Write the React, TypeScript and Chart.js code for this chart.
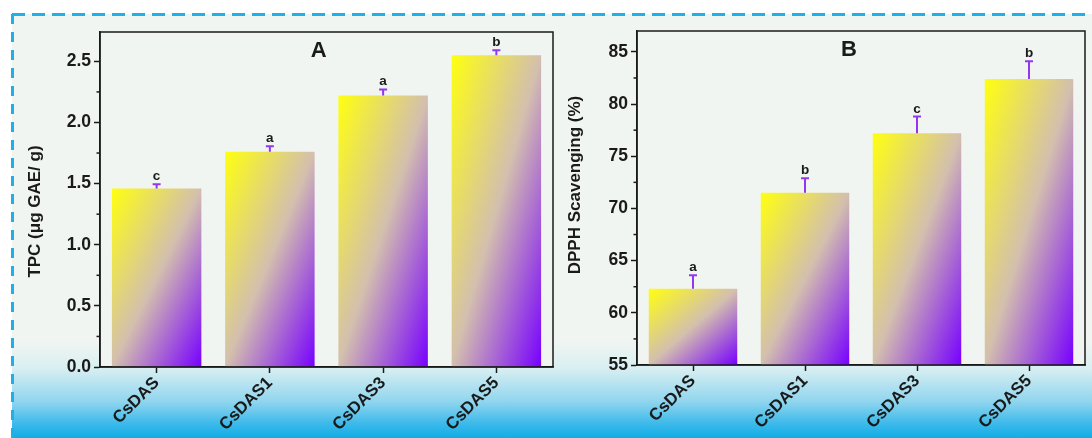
import { useEffect, useRef } from 'react';
import { Chart, registerables } from 'chart.js';

Chart.register(...registerables);

const categories = ['CsDAS', 'CsDAS1', 'CsDAS3', 'CsDAS5'];
const tpcValues = [1.46, 1.76, 2.22, 2.55];
const tpcErrors = [0.035, 0.045, 0.05, 0.04];
const tpcLetters = ['c', 'a', 'a', 'b'];
const dpphValues = [62.3, 71.5, 77.2, 82.4];
const dpphErrors = [1.3, 1.4, 1.6, 1.7];
const dpphLetters = ['a', 'b', 'c', 'b'];

const FONT = '"Liberation Sans", Arial, Helvetica, sans-serif';
const BAR_PCT = 0.79;
const INK = '#1a1a1a';

function barFill(c: any) {
  if (c.type !== 'data') return '#ffff00';
  const chart = c.chart;
  const xs = chart.scales.x;
  const ys = chart.scales.y;
  if (!xs || !ys || !chart.chartArea) return '#ffff00';
  const w = (xs.width / chart.data.labels.length) * BAR_PCT;
  const cx = xs.getPixelForValue(c.dataIndex);
  const x0 = cx - w / 2;
  const y0 = ys.getPixelForValue(c.raw);
  const y1 = ys.getPixelForValue(ys.min);
  const h = Math.max(1, y1 - y0);
  const k = (2 * w * h) / (w * w + h * h);
  const g = chart.ctx.createLinearGradient(x0, y0, x0 + h * k, y0 + w * k);
  g.addColorStop(0, '#ffff10');
  g.addColorStop(0.5, '#d3bfae');
  g.addColorStop(1, '#7700ff');
  return g;
}

const decor = {
  id: 'decor',
  beforeDraw(chart: any) {
    const { ctx, chartArea: a } = chart;
    ctx.save();
    ctx.fillStyle = '#f1f5f1';
    ctx.fillRect(a.left, a.top, a.width, a.height);
    ctx.restore();
  },
  afterDatasetsDraw(chart: any, _args: any, opts: any) {
    const { ctx, chartArea: a } = chart;
    const xs = chart.scales.x;
    const ys = chart.scales.y;
    const vals: number[] = chart.data.datasets[0].data;
    ctx.save();
    vals.forEach((v, i) => {
      const px = xs.getPixelForValue(i);
      const yv = ys.getPixelForValue(v);
      const ye = ys.getPixelForValue(v + opts.errors[i]);
      ctx.strokeStyle = '#9436f0';
      ctx.lineWidth = 2;
      ctx.beginPath();
      ctx.moveTo(px, yv);
      ctx.lineTo(px, ye);
      ctx.moveTo(px - 4, ye);
      ctx.lineTo(px + 4, ye);
      ctx.stroke();
      ctx.fillStyle = INK;
      ctx.font = `bold 13.5px ${FONT}`;
      ctx.textAlign = 'center';
      ctx.textBaseline = 'alphabetic';
      ctx.fillText(opts.letters[i], px, ye - 4);
    });
    // frame
    ctx.strokeStyle = INK;
    ctx.lineWidth = 1.5;
    ctx.strokeRect(a.left, a.top, a.width, a.height);
    // minor ticks
    ctx.lineWidth = 1.5;
    for (let t = ys.min + opts.step / 2; t < ys.max; t += opts.step) {
      const py = ys.getPixelForValue(t);
      ctx.beginPath();
      ctx.moveTo(a.left - 3.5, py);
      ctx.lineTo(a.left, py);
      ctx.stroke();
    }
    // panel letter
    ctx.fillStyle = INK;
    ctx.font = `bold 22px ${FONT}`;
    ctx.textAlign = 'center';
    ctx.textBaseline = 'alphabetic';
    ctx.fillText(opts.panel, a.left + a.width * opts.panelFx, a.top + 25);
    // y title
    ctx.save();
    ctx.translate(opts.titleX, (a.top + a.bottom) / 2 + opts.titleDy);
    ctx.rotate(-Math.PI / 2);
    ctx.font = `bold 17px ${FONT}`;
    ctx.textAlign = 'center';
    ctx.textBaseline = 'middle';
    ctx.fillText(opts.title, 0, 0);
    ctx.restore();
    ctx.restore();
  },
};

function makeChart(canvas: HTMLCanvasElement, cfg: any) {
  const axisFont = { family: FONT, size: 17.5, weight: 'bold' as const };
  return new Chart(canvas, {
    type: 'bar',
    data: {
      labels: categories,
      datasets: [
        {
          data: cfg.values,
          backgroundColor: barFill,
          borderWidth: 0,
          barPercentage: BAR_PCT,
          categoryPercentage: 1,
        },
      ],
    },
    plugins: [decor],
    options: {
      animation: false,
      responsive: false,
      maintainAspectRatio: false,
      layout: { padding: { left: 0, top: cfg.top, right: cfg.right, bottom: 0 } },
      plugins: {
        legend: { display: false },
        tooltip: { enabled: false },
        title: { display: false },
        decor: {
          errors: cfg.errors,
          letters: cfg.letters,
          step: cfg.step,
          panel: cfg.panel,
          panelFx: cfg.panelFx,
          title: cfg.title,
          titleX: cfg.titleX,
          titleDy: cfg.titleDy,
        },
      } as any,
      scales: {
        x: {
          type: 'category',
          offset: true,
          grid: {
            display: true,
            drawOnChartArea: false,
            drawTicks: true,
            tickLength: 6,
            tickColor: INK,
            tickWidth: 1.5,
            offset: false,
          },
          border: { display: true, color: INK, width: 1.5 },
          ticks: {
            color: INK,
            font: { family: FONT, size: 17, weight: 'bold' },
            minRotation: 45,
            maxRotation: 45,
            autoSkip: false,
            padding: 0,
          },
          afterFit: (s: any) => {
            s.height = cfg.xAxisH;
          },
        },
        y: {
          type: 'linear',
          min: cfg.min,
          max: cfg.max,
          grid: {
            display: true,
            drawOnChartArea: false,
            drawTicks: true,
            tickLength: 6,
            tickColor: INK,
            tickWidth: 1.5,
          },
          border: { display: true, color: INK, width: 1.5 },
          ticks: {
            stepSize: cfg.step,
            includeBounds: false,
            color: INK,
            font: axisFont,
            padding: 3,
            callback: (v: any) => Number(v).toFixed(cfg.decimals),
          },
          afterFit: (s: any) => {
            s.width = cfg.yAxisW;
          },
        },
      },
    } as any,
  });
}

export default function App() {
  const refA = useRef<HTMLCanvasElement>(null);
  const refB = useRef<HTMLCanvasElement>(null);

  useEffect(() => {
    const a = makeChart(refA.current!, {
      values: tpcValues,
      errors: tpcErrors,
      letters: tpcLetters,
      min: 0,
      max: 2.74,
      step: 0.5,
      decimals: 1,
      panel: 'A',
      panelFx: 0.483,
      title: 'TPC (\u03bcg GAE/ g)',
      titleX: 35,
      titleDy: 12,
      top: 32,
      right: 7,
      xAxisH: 71,
      yAxisW: 100,
    });
    const b = makeChart(refB.current!, {
      values: dpphValues,
      errors: dpphErrors,
      letters: dpphLetters,
      min: 55,
      max: 87,
      step: 5,
      decimals: 0,
      panel: 'B',
      panelFx: 0.473,
      title: 'DPPH Scavenging (%)',
      titleX: 15,
      titleDy: -13,
      top: 31,
      right: 7,
      xAxisH: 73,
      yAxisW: 77,
    });
    return () => {
      a.destroy();
      b.destroy();
    };
  }, []);

  return (
    <div
      style={{
        position: 'absolute',
        left: 0,
        top: 0,
        width: 1092,
        height: 438,
        overflow: 'hidden',
        background: '#ffffff',
      }}
    >
      <div
        style={{
          position: 'absolute',
          left: 12,
          top: 14,
          right: 0,
          bottom: 0,
          background:
            'linear-gradient(to bottom, #f1f5f1 0px, #f1f5f1 326px, #d9eff2 354px, #8fd5ee 388px, #3bb9ea 410px, #12ace6 424px)',
        }}
      />
      <svg
        width={1092}
        height={438}
        style={{ position: 'absolute', left: 0, top: 0 }}
      >
        <line x1={12} y1={14.5} x2={1092} y2={14.5} stroke="#1fb0ea" strokeWidth={3} strokeDasharray="13 7" />
        <line x1={12.5} y1={14} x2={12.5} y2={438} stroke="#1fb0ea" strokeWidth={3} strokeDasharray="10 8" />
      </svg>
      <canvas
        ref={refA}
        width={560}
        height={438}
        style={{ position: 'absolute', left: 0, top: 0, width: 560, height: 438 }}
      />
      <canvas
        ref={refB}
        width={532}
        height={438}
        style={{ position: 'absolute', left: 560, top: 0, width: 532, height: 438 }}
      />
    </div>
  );
}
